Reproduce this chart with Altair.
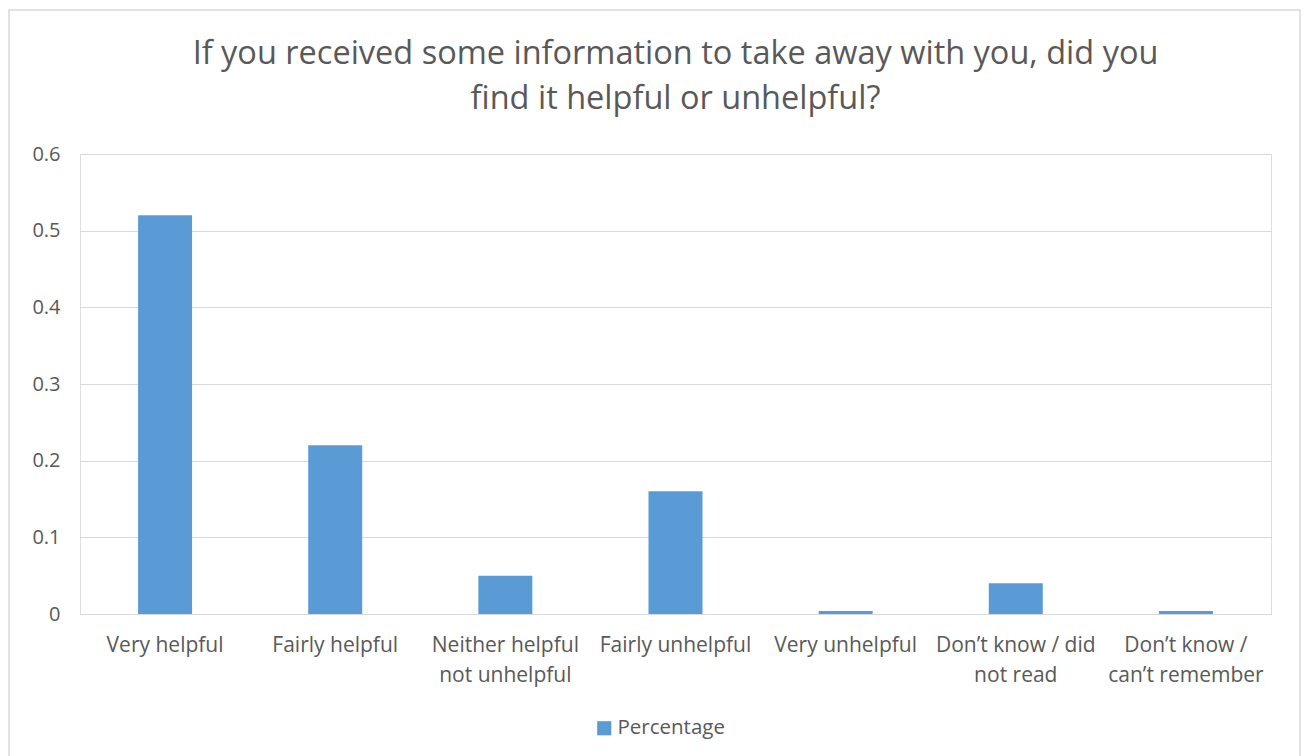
import altair as alt
import pandas as pd

# Survey responses and their share of respondents
categories = [
    "Very helpful",
    "Fairly helpful",
    "Neither helpful\nnot unhelpful",
    "Fairly unhelpful",
    "Very unhelpful",
    "Don\u2019t know / did\nnot read",
    "Don\u2019t know /\ncan\u2019t remember",
]
values = [0.52, 0.22, 0.05, 0.16, 0.004, 0.04, 0.004]
series_name = "Percentage"

df = pd.DataFrame({"category": categories, "value": values, "series": series_name})

FONT = "Open Sans"
TEXT = "#595959"
GRID = "#D9D9D9"
BLUE = "#5B9BD5"

W, H = 1191, 460

bars = alt.Chart(df).mark_bar(size=54).encode(
    x=alt.X(
        "category:N",
        sort=categories,
        title=None,
        scale=alt.Scale(paddingInner=0.68, paddingOuter=0.34),
        axis=alt.Axis(
            labelAngle=0,
            labelExpr="split(datum.label, '\\n')",
            labelFontSize=21,
            labelColor=TEXT,
            labelFont=FONT,
            labelPadding=20,
            labelLineHeight=30,
            labelBaseline="top",
            domain=True,
            domainColor=GRID,
            ticks=False,
            labelLimit=300,
        ),
    ),
    y=alt.Y(
        "value:Q",
        title=None,
        scale=alt.Scale(domain=[0, 0.6]),
        axis=alt.Axis(
            values=[0, 0.1, 0.2, 0.3, 0.4, 0.5, 0.6],
            format="~g",
            labelFontSize=20,
            labelColor=TEXT,
            labelFont=FONT,
            labelPadding=20,
            domain=False,
            ticks=False,
            gridColor=GRID,
            gridWidth=1.2,
        ),
    ),
    color=alt.Color(
        "series:N",
        scale=alt.Scale(range=[BLUE]),
        legend=alt.Legend(
            title=None,
            orient="none",
            legendX=514,
            legendY=564,
            symbolType="square",
            symbolSize=200,
            symbolStrokeWidth=0,
            labelFontSize=20.5,
            labelColor=TEXT,
            labelFont=FONT,
            labelOffset=3,
        ),
    ),
)

# Light frame around the whole figure
frame = alt.Chart(pd.DataFrame({"k": [0]})).mark_rect(
    fill=None, stroke=GRID, strokeWidth=1.5
).encode(
    x=alt.value(-71),
    x2=alt.value(1220),
    y=alt.value(-144),
    y2=alt.value(620),
)

chart = alt.layer(bars, frame).properties(
    width=W,
    height=H,
    title=alt.TitleParams(
        text=[
            "If you received some information to take away with you, did you",
            "find it helpful or unhelpful?",
        ],
        fontSize=32.5,
        font=FONT,
        fontWeight="normal",
        color=TEXT,
        anchor="middle",
        lineHeight=45,
        baseline="alphabetic",
        offset=-132,
    ),
    autosize=alt.AutoSizeParams(type="none"),
    padding={"left": 80, "top": 154, "right": 35, "bottom": 142},
).configure_view(stroke=None).configure(background="white")

chart.save("out.html", embed_options={"renderer": "svg", "actions": False})
